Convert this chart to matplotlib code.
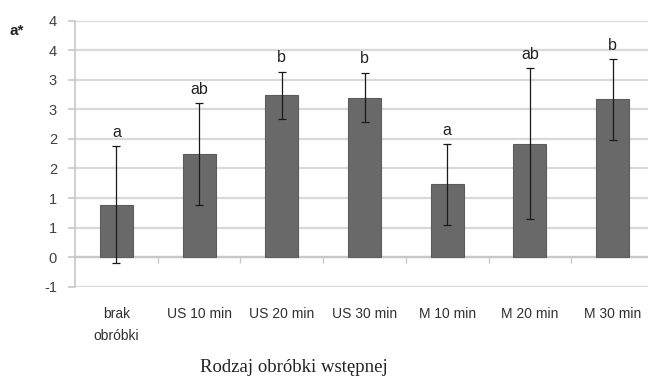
import math
import matplotlib
matplotlib.use("Agg")
import matplotlib.pyplot as plt
from matplotlib.ticker import FixedLocator

categories = ["brak\nobróbki", "US 10 min", "US 20 min", "US 30 min",
              "M 10 min", "M 20 min", "M 30 min"]
values = [0.89, 1.74, 2.74, 2.70, 1.23, 1.92, 2.67]
errors = [0.99, 0.86, 0.40, 0.42, 0.68, 1.28, 0.68]
letters = ["a", "ab", "b", "b", "a", "ab", "b"]
yticks = [-0.5, 0, 0.5, 1, 1.5, 2, 2.5, 3, 3.5, 4]
ytick_labels = ["-1", "0", "1", "1", "2", "2", "3", "3", "4", "4"]

W, H = 648, 376
fig = plt.figure(figsize=(W / 100, H / 100), dpi=100)
left, right = 75 / W, 654 / W
top, bottom = 1 - 20.7 / H, 1 - 286.7 / H
ax = fig.add_axes([left, bottom, right - left, top - bottom])

x = list(range(len(categories)))
ax.bar(x, values, width=0.40, color="#696969", edgecolor="#5c5c5c",
       linewidth=0.8, zorder=3)
ax.errorbar(x, values, yerr=errors, fmt="none", ecolor="#1a1a1a",
            elinewidth=0.9, capsize=3, capthick=0.9, zorder=4)
for xi, v, e, t in zip(x, values, errors, letters):
    ax.annotate(t, (xi, v + e), xytext=(0, 4.5), textcoords="offset points",
                ha="center", va="bottom", fontsize=11.5, color="#222222",
                family="Liberation Sans")

ax.set_xlim(-0.5, len(categories) - 0.5)
ax.set_ylim(-0.5, 4.0)
ax.yaxis.set_major_locator(FixedLocator(yticks))
ax.set_yticklabels(ytick_labels)
ax.grid(axis="y", color="#d9d9d9", linewidth=1.6, zorder=0)
ax.set_axisbelow(True)

for s in ["top", "right"]:
    ax.spines[s].set_visible(False)
ax.spines["left"].set_color("#c8c8c8")
ax.spines["left"].set_linewidth(1.2)
ax.spines["bottom"].set_position(("data", 0))
ax.spines["bottom"].set_color("#c8c8c8")
ax.spines["bottom"].set_linewidth(1.6)

ax.tick_params(axis="y", length=5, color="#c8c8c8", width=1.2,
               labelsize=10.5, labelcolor="#404040", pad=8)
ax.set_xticks(x)
ax.set_xticklabels(categories, fontsize=10, color="#303030",
                   family="Liberation Sans", linespacing=1.75)
ax.tick_params(axis="x", which="major", length=0, pad=36)
ax.set_xticks([i + 0.5 for i in x[:-1]], minor=True)
ax.tick_params(axis="x", which="minor", length=4, color="#c8c8c8", width=1.0)
for lab in ax.get_yticklabels():
    lab.set_family("Liberation Sans")

fig.text(10 / W, 1 - 31 / H, "a*", fontsize=11, fontweight="bold",
         ha="left", va="center", color="#222222", family="Liberation Sans")
fig.text(294 / W, 1 - 367 / H, "Rodzaj obróbki wstępnej", fontsize=13.5,
         ha="center", va="center", color="#222222", family="Liberation Serif")

fig.savefig("out.png", dpi=100)
